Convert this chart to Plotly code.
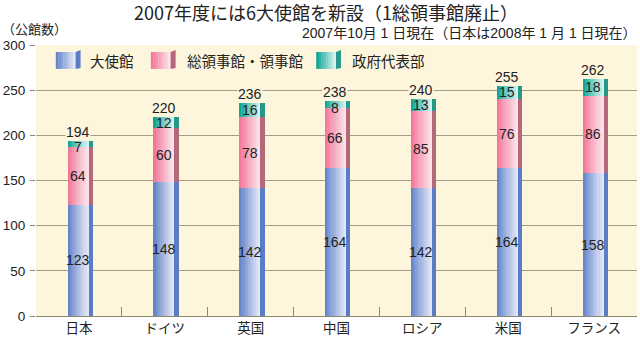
import plotly.graph_objects as go
import numpy as np

categories = ["日本", "ドイツ", "英国", "中国", "ロシア", "米国", "フランス"]
embassy = [123, 148, 142, 164, 142, 164, 158]
consulate = [64, 60, 78, 66, 85, 76, 86]
mission = [7, 12, 16, 8, 13, 15, 18]
series_names = ["大使館", "総領事館・領事館", "政府代表部"]
yticks = [0, 50, 100, 150, 200, 250, 300]

series = [embassy, consulate, mission]
grad = [("#6585ca", "#e2e7f8"), ("#f2789a", "#fee2ea"), ("#10a696", "#d4f3ee")]
side_cols = ["#5b7cc6", "#b46878", "#269888"]

JFONT = "Noto Sans CJK JP"
NFONT = "Liberation Sans, Noto Sans CJK JP"
BG = "#fdf5dc"

# plot area in pixels (for legend decoration placement)
L, R, T, B = 30, 637, 45, 317
W, H = 640, 340

def px(xp):
    return (xp - L) / (R - L)

def py(yp):
    return (B - yp) / (B - T)

def mix(c1, c2, t):
    a = [int(c1[i:i+2], 16) for i in (1, 3, 5)]
    b = [int(c2[i:i+2], 16) for i in (1, 3, 5)]
    return "#" + "".join(f"{int(round(a[k] + (b[k]-a[k])*t)):02x}" for k in range(3))

fig = go.Figure()
x = np.arange(len(categories))
front_off = -0.132
front_w = 0.245
side_w = 0.05
nstr = 10
sw = front_w / nstr

base = np.zeros(len(categories))
for si, vals in enumerate(series):
    v = np.array(vals, dtype=float)
    for k in range(nstr):
        t = (k / (nstr - 1)) ** 0.9
        fig.add_trace(go.Bar(
            x=x, y=v, base=base, width=[sw * 1.05] * len(x), offset=front_off + k * sw,
            marker=dict(color=mix(grad[si][0], grad[si][1], t), line=dict(width=0)),
            showlegend=False, hoverinfo="skip"))
    fig.add_trace(go.Bar(
        x=x, y=v, base=base, width=[side_w] * len(x), offset=front_off + front_w,
        marker=dict(color=side_cols[si], line=dict(width=0)),
        showlegend=False, hoverinfo="skip"))
    for i in range(len(x)):
        fig.add_annotation(x=x[i] - 0.012, y=base[i] + v[i] / 2, text=str(vals[i]),
                           yshift=-3 if vals[i] < 10 else 0,
                           showarrow=False, font=dict(size=14, color="#222", family=NFONT))
    base = base + v

for i in range(len(x)):
    fig.add_annotation(x=x[i] - 0.012, y=base[i], yshift=9, text=str(int(base[i])),
                       showarrow=False, bgcolor=BG, borderpad=0,
                       font=dict(size=14, color="#222", family=NFONT))

# manual legend (icon boxes + labels)
legend_x = [50, 146, 313]
legend_text_x = [83, 180, 347]
ly0, ly1 = 52, 69
for si in range(3):
    x0 = legend_x[si]
    n = 8
    for k in range(n):
        t = k / (n - 1)
        fig.add_shape(type="rect", xref="paper", yref="paper",
                      x0=px(x0 + k * 20 / n), x1=px(x0 + (k + 1) * 20 / n + 0.3),
                      y0=py(ly1), y1=py(ly0), line=dict(width=0),
                      fillcolor=mix(grad[si][0], grad[si][1], t), layer="above")
    fig.add_shape(type="path", xref="paper", yref="paper",
                  path=f"M {px(x0+20)} {py(ly0)} L {px(x0+25)} {py(ly0-2)} L {px(x0+25)} {py(ly1-1)} L {px(x0+20)} {py(ly1)} Z",
                  line=dict(width=0), fillcolor=side_cols[si], layer="above")
    fig.add_annotation(xref="paper", yref="paper", x=px(legend_text_x[si]), y=py(61),
                       xanchor="left", yanchor="middle", text=series_names[si], showarrow=False,
                       font=dict(size=14.5, color="#222", family=JFONT))

fig.add_annotation(xref="paper", yref="paper", x=px(323), y=py(12), xanchor="center", yanchor="middle",
                   text="2007年度には6大使館を新設（1総領事館廃止）", showarrow=False,
                   font=dict(size=18, color="#222", family=JFONT))
fig.add_annotation(xref="paper", yref="paper", x=px(639), y=py(33), xanchor="right", yanchor="middle",
                   text="2007年10月 1 日現在（日本は2008年 1 月 1 日現在）", showarrow=False,
                   font=dict(size=14, color="#222", family=NFONT))
fig.add_annotation(xref="paper", yref="paper", x=px(-6), y=py(28), xanchor="left", yanchor="middle",
                   text="（公館数）", showarrow=False,
                   font=dict(size=13, color="#222", family=JFONT))

fig.update_layout(
    width=W, height=H,
    margin=dict(l=L, r=W - R, t=T, b=H - B),
    barmode="overlay", bargap=0,
    plot_bgcolor=BG, paper_bgcolor="white",
    font=dict(family=NFONT, size=13, color="#222"),
    showlegend=False,
)
fig.update_xaxes(tickvals=list(x), ticktext=categories, range=[-0.5, len(x) - 0.5],
                 showgrid=False, showline=True, linecolor="#8c8670", linewidth=1,
                 ticks="", tickfont=dict(size=13.5, family=JFONT), zeroline=False,
                 minor=dict(tickvals=[i + 0.5 for i in range(len(x) - 1)], ticks="inside",
                            ticklen=9, tickcolor="#8c8670", showgrid=False))
fig.update_yaxes(range=[0, 300], tickvals=yticks, showgrid=True, gridcolor="#a39d85",
                 gridwidth=1, ticks="outside", ticklen=5, tickcolor="#8c8670",
                 showline=False, zeroline=False, tickfont=dict(size=13.5, family=NFONT),
                 ticklabelstandoff=2)

fig.write_html("out.html")
